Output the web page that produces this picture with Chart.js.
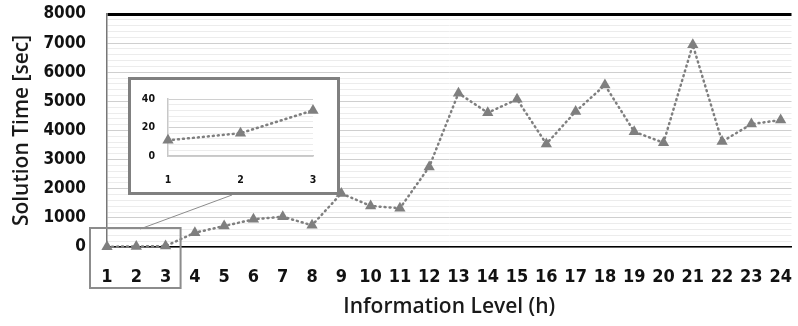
<!DOCTYPE html>
<html>
<head>
<meta charset="utf-8">
<script src="https://cdn.jsdelivr.net/npm/chart.js@4.4.0/dist/chart.umd.min.js"></script>
<style>
    body { margin: 0; background: #fff; }
    #wrap { position: relative; width: 798px; height: 326px; }
    #inset { position: absolute; left: 128px; top: 77px; width: 212px; height: 118px;
             box-sizing: border-box; border: 3px solid #808080; background: #fff; }
</style>
</head>
<body>
<div id="wrap">
    <canvas id="mainChart" width="798" height="326"></canvas>
    <div id="inset"><canvas id="insetChart" width="206" height="112"></canvas></div>
</div>
<script>
/* Data */
var levels = [1, 2, 3, 4, 5, 6, 7, 8, 9, 10, 11, 12, 13, 14, 15, 16, 17, 18, 19, 20, 21, 22, 23, 24];
var solutionTime = [11, 16, 32, 490, 720, 950, 1040, 745, 1840, 1410, 1330, 2750,
                    5280, 4610, 5070, 3540, 4650, 5560, 3960, 3580, 6940, 3620, 4220, 4360];
var yTickLabels = [0, 1000, 2000, 3000, 4000, 5000, 6000, 7000, 8000];
var insetLevels = levels.slice(0, 3);
var insetTime = solutionTime.slice(0, 3);
var insetTickLabels = [0, 20, 40];

var tickFont = "'DejaVu Sans Condensed', 'DejaVu Sans', sans-serif";
var titleFont = "'Open Sans', sans-serif";
var grey = '#7f7f7f';

function points(xs, ys) {
    return xs.map(function (x, i) { return {x: x, y: ys[i]}; });
}

// keep the plot area where the picture has it
function noPad(scale) {
    scale.paddingTop = 0;
    scale.paddingBottom = 0;
    scale.paddingLeft = 0;
    scale.paddingRight = 0;
}

/* zoom rectangle round levels 1-3 and the leader to the inset */
var zoomBox = {
    id: 'zoomBox',
    afterDraw: function (chart) {
        var ctx = chart.ctx;
        var xs = chart.scales.x, ys = chart.scales.y;
        var left = xs.getPixelForValue(insetLevels[0]) - 17;
        var right = xs.getPixelForValue(insetLevels[2]) + 15;
        var top = ys.getPixelForValue(0) - 19;
        var bottom = ys.getPixelForValue(0) + 41;
        var inset = document.getElementById('inset');
        ctx.save();
        ctx.strokeStyle = '#8c8c8c';
        ctx.lineWidth = 1;
        ctx.beginPath();
        ctx.moveTo(left + 50, top + 1);
        ctx.lineTo(inset.offsetLeft + 104, inset.offsetTop + inset.offsetHeight);
        ctx.stroke();
        ctx.lineWidth = 2;
        ctx.strokeRect(left, top, right - left, bottom - top);
        ctx.restore();
    }
};

/* Graphic : solution time by information level */
new Chart(document.getElementById('mainChart').getContext('2d'), {
    type: 'line',
    data: {
        datasets: [{
            data: points(levels, solutionTime),
            borderColor: grey,
            borderWidth: 2.5,
            borderDash: [1, 4],
            borderCapStyle: 'round',
            pointStyle: 'triangle',
            pointRadius: 6.5,
            pointBackgroundColor: grey,
            pointBorderColor: grey,
            pointBorderWidth: 0,
            clip: false,
            tension: 0
        }]
    },
    options: {
        responsive: false,
        animation: false,
        devicePixelRatio: 1,
        layout: { padding: { left: 0, right: 0, top: 14, bottom: 0 } },
        plugins: { legend: { display: false }, tooltip: { enabled: false } },
        scales: {
            x: {
                type: 'linear',
                min: 1,
                max: 24.37,
                afterBuildTicks: function (scale) {
                    scale.ticks = levels.map(function (v) { return {value: v}; });
                },
                afterFit: function (scale) { scale.height = 79; noPad(scale); },
                grid: { display: false },
                border: { color: '#000', width: 1.5 },
                ticks: {
                    autoSkip: false,
                    maxRotation: 0,
                    padding: 12,
                    color: '#111',
                    font: { family: tickFont, size: 18, weight: 'bold' }
                },
                title: {
                    display: true,
                    text: 'Information Level (h)',
                    color: '#1a1a1a',
                    padding: { top: 0, bottom: 6 },
                    font: { family: titleFont, size: 21, weight: '600' }
                }
            },
            y: {
                min: 0,
                max: 8000,
                afterFit: function (scale) { scale.width = 107; noPad(scale); },
                border: { color: '#777', width: 1.5 },
                grid: {
                    drawTicks: false,
                    color: function (c) {
                        var v = c.tick.value;
                        if (v === 8000) return '#000';
                        return yTickLabels.indexOf(v) >= 0 ? '#cfcfcf' : '#ececec';
                    },
                    lineWidth: function (c) { return c.tick.value === 8000 ? 3 : 1; }
                },
                ticks: {
                    stepSize: 200,
                    autoSkip: false,
                    padding: 21,
                    color: '#111',
                    font: { family: tickFont, size: 17, weight: 'bold' },
                    callback: function (v) { return yTickLabels.indexOf(v) >= 0 ? String(v) : ''; }
                },
                title: {
                    display: true,
                    text: 'Solution Time [sec]',
                    color: '#1a1a1a',
                    padding: { top: 9, bottom: 0 },
                    font: { family: titleFont, size: 21, weight: '600' }
                }
            }
        }
    },
    plugins: [zoomBox]
});

/* Inset : levels 1 to 3 */
new Chart(document.getElementById('insetChart').getContext('2d'), {
    type: 'line',
    data: {
        datasets: [{
            data: points(insetLevels, insetTime),
            borderColor: grey,
            borderWidth: 2.5,
            borderDash: [1, 4],
            borderCapStyle: 'round',
            pointStyle: 'triangle',
            pointRadius: 6.5,
            pointBackgroundColor: grey,
            pointBorderColor: grey,
            pointBorderWidth: 0,
            clip: false,
            tension: 0
        }]
    },
    options: {
        responsive: false,
        animation: false,
        devicePixelRatio: 1,
        layout: { padding: { left: 0, right: 24, top: 19, bottom: 0 } },
        plugins: { legend: { display: false }, tooltip: { enabled: false } },
        scales: {
            x: {
                type: 'linear',
                min: 1,
                max: 3,
                afterBuildTicks: function (scale) {
                    scale.ticks = insetLevels.map(function (v) { return {value: v}; });
                },
                afterFit: function (scale) { scale.height = 36; noPad(scale); },
                grid: { display: false },
                border: { color: '#c8c8c8', width: 1.5 },
                ticks: {
                    maxRotation: 0,
                    padding: 10,
                    color: '#111',
                    font: { family: tickFont, size: 10.5, weight: 'bold' }
                }
            },
            y: {
                min: 0,
                max: 40,
                afterFit: function (scale) { scale.width = 37; noPad(scale); },
                border: { color: '#c8c8c8', width: 1.5 },
                grid: {
                    drawTicks: false,
                    color: function (c) {
                        return insetTickLabels.indexOf(c.tick.value) >= 0 ? '#d0d0d0' : '#ececec';
                    }
                },
                ticks: {
                    stepSize: 4,
                    autoSkip: false,
                    padding: 13,
                    color: '#111',
                    font: { family: tickFont, size: 10.5, weight: 'bold' },
                    callback: function (v) { return insetTickLabels.indexOf(v) >= 0 ? String(v) : ''; }
                }
            }
        }
    }
});
</script>
</body>
</html>
